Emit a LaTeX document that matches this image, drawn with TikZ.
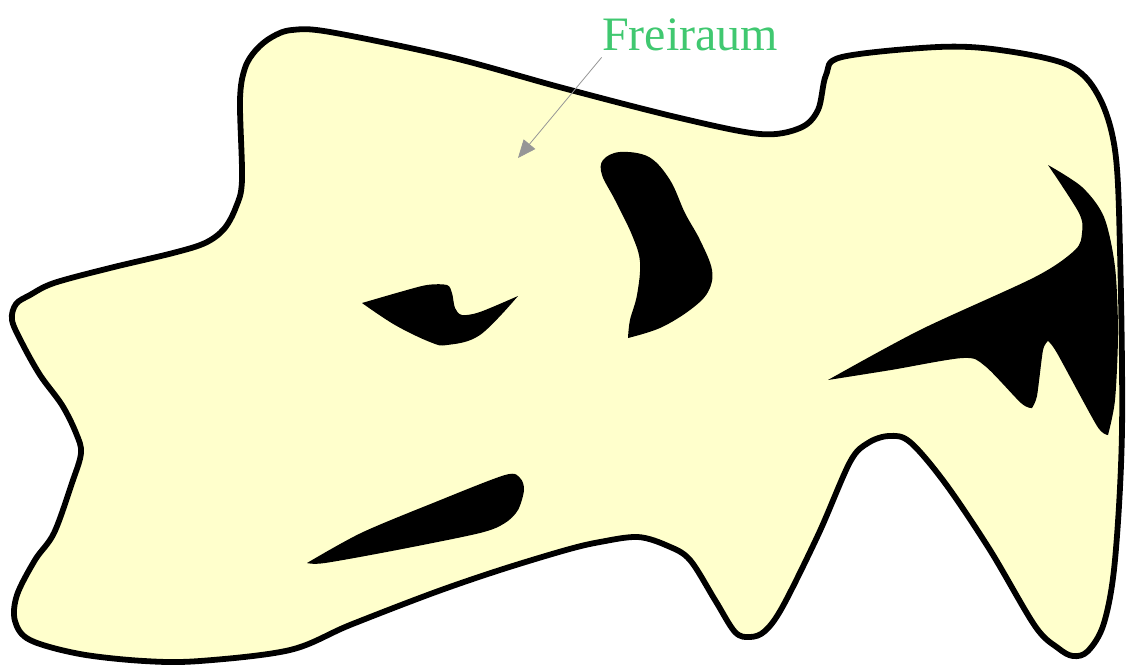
\documentclass[tikz,border=0pt]{standalone}
\usepackage{fontspec}
\setmainfont{Liberation Serif}
\usetikzlibrary{arrows.meta}

\definecolor{raumgelb}{RGB}{255,255,204}
\definecolor{raumgruen}{RGB}{64,200,112}
\definecolor{pfeilgrau}{RGB}{150,150,150}

\begin{document}
\begin{tikzpicture}[
			x=0.5pt, y=-0.5pt,
			line join=round,
			rand/.style={draw=black, line width=2.9pt, fill=raumgelb},
			loch/.style={fill=black},
			pfeil/.style={-{Triangle[length=9pt, width=7.5pt]}, pfeilgrau, thin},
		]
			\useasboundingbox (0,0) rectangle (1132,666);

			% Umriss des Raums
			\draw[rand] plot[smooth cycle, tension=0.55] coordinates {
				(292,30) (330,32) (450,57) (563,88) (680,118) (760,134) (800,128)
				(818,110) (826,75) (842,57) (938,47) (1000,50) (1068,65) (1098,95)
				(1115,150) (1120,250) (1122,430) (1115,560) (1104,623) (1088,651)
				(1073,656) (1058,648) (1035,626) (990,550) (945,483) (910,442)
				(889,436) (868,443) (850,462) (819,533) (783,606) (765,631)
				(750,637) (735,632) (715,600) (690,560) (668,546) (638,537)
				(600,542) (566,550) (500,570) (433,593) (350,625) (290,650)
				(200,661) (144,661) (80,654) (30,640) (15,621) (17,595) (35,560)
				(54,533) (72,483) (81,453) (76,433) (62,405) (40,375) (22,343)
				(12,320) (16,304) (30,295) (54,283) (110,268) (173,253) (205,243)
				(224,229) (236,207) (242,180) (240,100) (245,68) (256,50) (272,37)
			};

			% Hindernisse
			\fill[loch] plot[smooth, tension=0.5] coordinates {(362,303) (400,292) (427,285) (447,285) (452,293) (455,308) (462,315) (480,312) (518,296)}
				-- plot[smooth, tension=0.6] coordinates {(518,296) (480,335) (447,345) (430,342) (395,325) (362,303)} -- cycle;

			\fill[loch] plot[smooth, tension=0.6] coordinates {(628,338) (630,320) (637,295) (640,262) (632,235) (615,200) (602,175) (603,160) (620,152) (649,157) (670,180) (685,213) (700,240) (712,270) (708,292) (690,310) (660,328) (628,338)} -- cycle;

			\fill[loch] plot[smooth, tension=0.5] coordinates {(1048,165) (1082,187) (1104,217) (1115,267) (1118,333) (1115,400) (1108,435)}
				-- plot[smooth, tension=0.4] coordinates {(1108,435) (1097,426) (1057,353) (1048,341)}
				-- plot[smooth, tension=0.4] coordinates {(1048,341) (1043,350) (1037,396) (1032,408)}
				-- plot[smooth, tension=0.5] coordinates {(1032,408) (1021,403) (985,366) (963,358) (891,370) (828,380)}
				-- plot[smooth, tension=0.5] coordinates {(828,380) (920,330) (1035,277) (1075,250) (1082,233) (1079,213) (1048,165)} -- cycle;

			\fill[loch] plot[smooth, tension=0.5] coordinates {(307,563) (361,533) (433,503) (505,475) (520,478) (524,490) (518,510) (505,523) (480,533) (397,550) (325,563) (307,563)} -- cycle;

			% Beschriftung
			\node[raumgruen, font=\fontsize{24}{28}\selectfont, anchor=base, inner xsep=0pt, inner ysep=3.25pt] (freiraum) at (690,50) {Freiraum};
			\coordinate (ziel) at (518,158);
			\draw[pfeil] (freiraum.south west) -- (ziel);
		\end{tikzpicture}
\end{document}
